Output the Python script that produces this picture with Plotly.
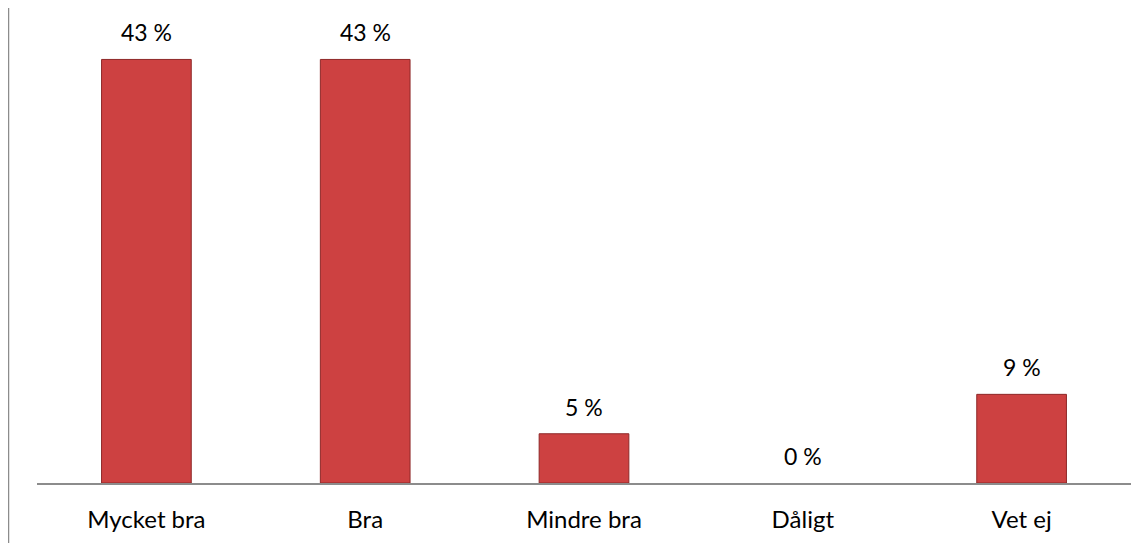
import plotly.graph_objects as go

categories = ["Mycket bra", "Bra", "Mindre bra", "Dåligt", "Vet ej"]
values = [43, 43, 5, 0, 9]
labels = ["43 %", "43 %", "5 %", "0 %", "9 %"]

FONT = "Lato, 'Open Sans', sans-serif"

fig = go.Figure()
fig.add_trace(go.Bar(
    x=categories, y=values, width=0.41,
    marker=dict(color="#CD4141",
                line=dict(color="#8E2828", width=[1 if v > 0 else 0 for v in values])),
    hoverinfo="skip",
))

for c, v, t in zip(categories, values, labels):
    fig.add_annotation(x=c, y=v, text=t, showarrow=False, yanchor="middle",
                       yshift=27, font=dict(family=FONT, size=23, color="#000000"))

PLOT_W = 1094
PLOT_H = 475
fig.add_shape(type="line", xref="paper", yref="paper",
              x0=-28.5/PLOT_W, x1=-28.5/PLOT_W, y0=-60/PLOT_H, y1=1,
              line=dict(color="#8C8C8C", width=1.5))

fig.update_layout(
    width=1139, height=535,
    margin=dict(l=29, r=16, t=0, b=60),
    paper_bgcolor="white", plot_bgcolor="white",
    showlegend=False,
    font=dict(family=FONT, size=23, color="#000000"),
    xaxis=dict(range=[-0.5, 4.5], showline=True, linecolor="#8C8C8C", linewidth=2,
               showgrid=False, zeroline=False, ticks="", ticklabelstandoff=14,
               tickfont=dict(family=FONT, size=24, color="#000000")),
    yaxis=dict(range=[0, PLOT_H / 9.85], visible=False, showgrid=False, zeroline=False),
)

fig.write_html("out.html")
